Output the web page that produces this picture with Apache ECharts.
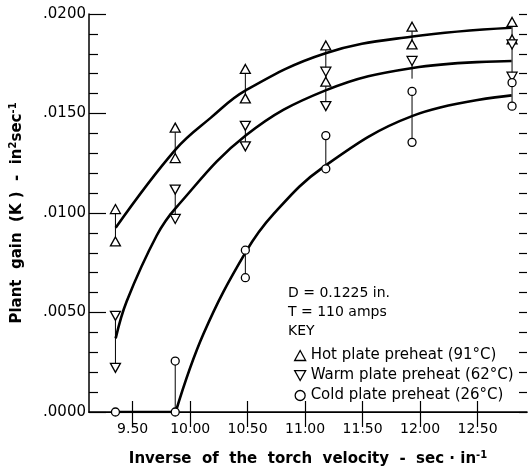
<!DOCTYPE html>
<html>
<head>
<meta charset="utf-8">
<script src="https://cdn.jsdelivr.net/npm/echarts@6/dist/echarts.min.js"></script>
<style>
 html, body { margin: 0; padding: 0; background: #fff; }
 #main { width: 529px; height: 473px; }
</style>
</head>
<body>
<div id="main"></div>
<script>
// tick labels
var xTicks = [9.5, 10.0, 10.5, 11.0, 11.5, 12.0, 12.5];

// measured points, [x, K]
var hotPts = [[9.35,0.0102],[9.35,0.00857],[9.87,0.01429],[9.87,0.01276],[10.48,0.01724],[10.48,0.01576],
  [11.18,0.01842],[11.18,0.0166],[11.93,0.01936],[11.93,0.01847],[12.80,0.0196],[12.80,0.01872]];
var warmPts = [[9.35,0.00483],[9.35,0.00222],[9.87,0.01118],[9.87,0.0097],[10.48,0.01438],[10.48,0.01335],
  [11.18,0.0171],[11.18,0.01537],[11.93,0.01764],[12.80,0.01847],[12.80,0.01685]];
var coldPts = [[9.35,0],[9.87,0],[9.87,0.00256],[10.48,0.00813],[10.48,0.00675],[11.18,0.01389],[11.18,0.01222],
  [11.93,0.01611],[11.93,0.01355],[12.80,0.01655],[12.80,0.01537]];

// spread lines [x, low, high]
var hotBars = [[9.35,0.00857,0.0102],[9.87,0.01276,0.01429],[10.48,0.01576,0.01724],[11.18,0.0166,0.01842],[11.93,0.01847,0.01936],[12.80,0.01872,0.0196]];
var warmBars = [[9.35,0.00222,0.00483],[9.87,0.0097,0.01118],[10.48,0.01335,0.01438],[11.18,0.01537,0.0171],[11.93,0.01675,0.01764],[12.80,0.01685,0.01847]];
var coldBars = [[9.87,0,0.00256],[10.48,0.00675,0.00813],[11.18,0.01222,0.01389],[11.93,0.01355,0.01611],[12.80,0.01537,0.01655]];

// fitted curves
var hotCurve = [[9.352,0.00926],[9.874,0.0132],[10.178,0.01478],[10.483,0.01616],[11.178,0.01803],[11.935,0.01887],[12.796,0.01931]];
var warmCurve = [[9.352,0.0037],[9.448,0.00557],[9.709,0.00887],[9.874,0.01025],[10.483,0.01389],[11.178,0.01616],[11.935,0.01729],[12.796,0.01764]];
var coldFlat = [[9.352,0],[9.874,0]];
var coldCurve = [[9.874,0],[10.117,0.00394],[10.483,0.00803],[10.726,0.00995],[11.161,0.01232],[11.935,0.01488],[12.796,0.01591]];

var names = ['Hot plate preheat (91°C)', 'Warm plate preheat (62°C)', 'Cold plate preheat (26°C)'];

var FONT = 'DejaVu Sans';
var DOWN = 'path://M0,0 L10,0 L5,9 Z';
var chart = echarts.init(document.getElementById('main'));

function barSeries(d) {
  return {
    type: 'custom',
    data: d,
    z: 2,
    silent: true,
    renderItem: function (params, api) {
      var a = api.coord([api.value(0), api.value(1)]);
      var b = api.coord([api.value(0), api.value(2)]);
      return { type: 'line', shape: { x1: a[0], y1: a[1], x2: b[0], y2: b[1] }, style: { stroke: '#000', lineWidth: 1 } };
    }
  };
}
function curve(d, smooth) {
  return { type: 'line', data: d, smooth: smooth, showSymbol: false, symbol: 'none', z: 3, silent: true,
    lineStyle: { color: '#000', width: 2.6 } };
}
function pts(name, d, sym, size) {
  return { name: name, type: 'scatter', data: d, symbol: sym, symbolSize: size, z: 5,
    itemStyle: { color: '#fff', borderColor: '#000', borderWidth: 1.3, opacity: 1 } };
}

var nameRich = {
  n: { fontFamily: FONT, fontSize: 15, fontWeight: 'bold', color: '#000', lineHeight: 18 },
  s: { fontFamily: FONT, fontSize: 10, fontWeight: 'bold', color: '#000', lineHeight: 18, padding: [0, 0, 8, 0] }
};

chart.setOption({
  animation: false,
  grid: { left: 86, right: 2, top: 14, bottom: 53 },
  xAxis: [{
    type: 'value', min: 9.12, max: 12.93, position: 'bottom',
    name: '{n|Inverse  of  the  torch  velocity  -  sec · in}{s|-1}',
    nameLocation: 'middle', nameGap: 38,
    nameTextStyle: { rich: nameRich },
    splitLine: { show: false },
    axisLine: { lineStyle: { color: '#000', width: 1.5 } },
    axisTick: { inside: true, length: 11, customValues: xTicks, lineStyle: { color: '#000', width: 1.2 } },
    axisLabel: { customValues: xTicks, margin: 10, color: '#000', fontFamily: FONT, fontSize: 14,
      formatter: function (v) { return v.toFixed(2); } }
  }, {
    type: 'value', min: 9.12, max: 12.93, position: 'top',
    splitLine: { show: false },
    axisLine: { lineStyle: { color: '#000', width: 1.2 } },
    axisTick: { inside: true, length: 15, customValues: xTicks, lineStyle: { color: '#000', width: 1.2 } },
    axisLabel: { show: false }
  }],
  yAxis: [{
    type: 'value', min: 0, max: 0.02, interval: 0.005, position: 'left',
    name: '{n|Plant  gain  (K )  -  in}{s|2}{n|sec}{s|-1}',
    nameLocation: 'middle', nameGap: 63, nameRotate: 90,
    nameTextStyle: { rich: nameRich },
    splitLine: { show: false },
    axisLine: { lineStyle: { color: '#000', width: 1.5 } },
    axisTick: { inside: true, length: 17, lineStyle: { color: '#000', width: 1.2 } },
    minorTick: { show: true, splitNumber: 5, length: 9, lineStyle: { color: '#000', width: 1.2 } },
    minorSplitLine: { show: false },
    axisLabel: { margin: 3, color: '#000', fontFamily: FONT, fontSize: 15,
      formatter: function (v) { return v.toFixed(4).replace(/^0/, ''); } }
  }, {
    type: 'value', min: 0, max: 0.02, interval: 0.005, position: 'right',
    splitLine: { show: false },
    axisLine: { show: false },
    axisTick: { inside: true, length: 8, lineStyle: { color: '#000', width: 1.2 } },
    minorTick: { show: true, splitNumber: 5, length: 8, lineStyle: { color: '#000', width: 1.2 } },
    axisLabel: { show: false }
  }],
  legend: {
    data: names, orient: 'vertical', left: 289, top: 343, itemGap: 5,
    itemWidth: 11, itemHeight: 10, itemStyle: { borderWidth: 1.3 },
    textStyle: { fontFamily: FONT, fontSize: 15, color: '#000' }
  },
  graphic: [
    { type: 'text', left: 288, top: 286, style: { text: 'D = 0.1225 in.', font: '14px "DejaVu Sans"', fill: '#000' } },
    { type: 'text', left: 288, top: 305, style: { text: 'T = 110 amps', font: '14px "DejaVu Sans"', fill: '#000' } },
    { type: 'text', left: 288, top: 324, style: { text: 'KEY', font: '14px "DejaVu Sans"', fill: '#000' } }
  ],
  series: [
    barSeries(hotBars), barSeries(warmBars), barSeries(coldBars),
    curve(hotCurve, 0.4), curve(warmCurve, 0.4), curve(coldFlat, false), curve(coldCurve, 0.4),
    pts(names[0], hotPts, 'triangle', [10, 9]),
    pts(names[1], warmPts, DOWN, [10, 9]),
    pts(names[2], coldPts, 'circle', 8)
  ]
});
</script>
</body>
</html>
